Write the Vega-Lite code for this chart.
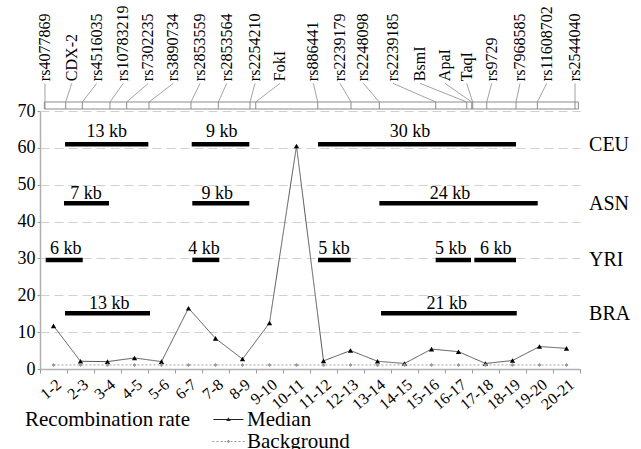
{
  "$schema": "https://vega.github.io/schema/vega-lite/v6.json",
  "autosize": {"type": "none"},
  "width": 540,
  "height": 258,
  "padding": {"top": 111, "left": 40, "right": 61, "bottom": 80},
  "config": {
    "view": {"stroke": null},
    "font": "Liberation Serif",
    "axisY": {
      "grid": true, "gridDash": [9, 5], "gridColor": "#d0d0d0", "gridWidth": 1,
      "domainColor": "#b0b0b0", "domainWidth": 1.5, "tickColor": "#999999", "tickSize": 3,
      "labelFont": "Liberation Serif", "labelFontSize": 18, "labelColor": "black", "labelPadding": 2,
      "labelOverlap": false
    }
  },
  "datasets": {
    "rates": [
      {"interval": "1-2", "series": "Median", "rate": 11.7},
      {"interval": "2-3", "series": "Median", "rate": 2.1},
      {"interval": "3-4", "series": "Median", "rate": 2.0},
      {"interval": "4-5", "series": "Median", "rate": 3.0},
      {"interval": "5-6", "series": "Median", "rate": 2.0},
      {"interval": "6-7", "series": "Median", "rate": 16.5},
      {"interval": "7-8", "series": "Median", "rate": 8.3},
      {"interval": "8-9", "series": "Median", "rate": 2.7},
      {"interval": "9-10", "series": "Median", "rate": 12.5},
      {"interval": "10-11", "series": "Median", "rate": 60.5},
      {"interval": "11-12", "series": "Median", "rate": 2.2},
      {"interval": "12-13", "series": "Median", "rate": 5.0},
      {"interval": "13-14", "series": "Median", "rate": 2.1},
      {"interval": "14-15", "series": "Median", "rate": 1.5},
      {"interval": "15-16", "series": "Median", "rate": 5.4},
      {"interval": "16-17", "series": "Median", "rate": 4.7},
      {"interval": "17-18", "series": "Median", "rate": 1.5},
      {"interval": "18-19", "series": "Median", "rate": 2.3},
      {"interval": "19-20", "series": "Median", "rate": 6.1},
      {"interval": "20-21", "series": "Median", "rate": 5.6},
      {"interval": "1-2", "series": "Background", "rate": 1.1},
      {"interval": "2-3", "series": "Background", "rate": 1.1},
      {"interval": "3-4", "series": "Background", "rate": 1.1},
      {"interval": "4-5", "series": "Background", "rate": 1.1},
      {"interval": "5-6", "series": "Background", "rate": 1.1},
      {"interval": "6-7", "series": "Background", "rate": 1.1},
      {"interval": "7-8", "series": "Background", "rate": 1.1},
      {"interval": "8-9", "series": "Background", "rate": 1.1},
      {"interval": "9-10", "series": "Background", "rate": 1.1},
      {"interval": "10-11", "series": "Background", "rate": 1.1},
      {"interval": "11-12", "series": "Background", "rate": 1.1},
      {"interval": "12-13", "series": "Background", "rate": 1.1},
      {"interval": "13-14", "series": "Background", "rate": 1.1},
      {"interval": "14-15", "series": "Background", "rate": 1.1},
      {"interval": "15-16", "series": "Background", "rate": 1.1},
      {"interval": "16-17", "series": "Background", "rate": 1.1},
      {"interval": "17-18", "series": "Background", "rate": 1.1},
      {"interval": "18-19", "series": "Background", "rate": 1.1},
      {"interval": "19-20", "series": "Background", "rate": 1.1},
      {"interval": "20-21", "series": "Background", "rate": 1.1}
    ],
    "snps": [
      {"name": "rs4077869", "mpos": 0.76, "lpos": 0.76},
      {"name": "CDX-2", "mpos": 3.92, "lpos": 4.84},
      {"name": "rs4516035", "mpos": 6.46, "lpos": 8.65},
      {"name": "rs10783219", "mpos": 10.68, "lpos": 12.71},
      {"name": "rs7302235", "mpos": 13.23, "lpos": 16.53},
      {"name": "rs3890734", "mpos": 16.63, "lpos": 20.34},
      {"name": "rs2853559", "mpos": 23.04, "lpos": 24.42},
      {"name": "rs2853564", "mpos": 27.21, "lpos": 28.49},
      {"name": "rs2254210", "mpos": 32.05, "lpos": 32.81},
      {"name": "FokI", "mpos": 32.92, "lpos": 36.62},
      {"name": "rs886441", "mpos": 42.38, "lpos": 41.71},
      {"name": "rs2239179", "mpos": 47.46, "lpos": 45.78},
      {"name": "rs2248098", "mpos": 51.78, "lpos": 49.34},
      {"name": "rs2239185", "mpos": 60.38, "lpos": 53.87},
      {"name": "BsmI", "mpos": 65.12, "lpos": 57.99},
      {"name": "ApaI", "mpos": 65.88, "lpos": 61.8},
      {"name": "TaqI", "mpos": 66.03, "lpos": 65.11},
      {"name": "rs9729", "mpos": 68.17, "lpos": 68.93},
      {"name": "rs7968585", "mpos": 72.64, "lpos": 73.25},
      {"name": "rs11608702", "mpos": 75.89, "lpos": 77.32},
      {"name": "rs2544040", "mpos": 81.64, "lpos": 81.64}
    ],
    "map": [{"start": 0.66, "end": 82.15}],
    "blocks": [
      {"pop": "CEU", "y": 61.0, "ly": 63.0, "start": 3.82, "end": 16.53, "label": "13 kb", "lx": 10.18},
      {"pop": "CEU", "y": 61.0, "ly": 63.0, "start": 23.15, "end": 31.94, "label": "9 kb", "lx": 27.73},
      {"pop": "CEU", "y": 61.0, "ly": 63.0, "start": 42.42, "end": 72.64, "label": "30 kb", "lx": 56.46},
      {"pop": "ASN", "y": 45.0, "ly": 46.2, "start": 3.66, "end": 10.53, "label": "7 kb", "lx": 7.02},
      {"pop": "ASN", "y": 45.0, "ly": 46.2, "start": 23.24, "end": 31.94, "label": "9 kb", "lx": 27.06},
      {"pop": "ASN", "y": 45.0, "ly": 46.2, "start": 51.78, "end": 75.95, "label": "24 kb", "lx": 62.57},
      {"pop": "YRI", "y": 29.6, "ly": 31.2, "start": 0.87, "end": 6.52, "label": "6 kb", "lx": 3.92},
      {"pop": "YRI", "y": 29.6, "ly": 31.2, "start": 23.24, "end": 27.36, "label": "4 kb", "lx": 25.03},
      {"pop": "YRI", "y": 29.6, "ly": 31.2, "start": 42.42, "end": 47.41, "label": "5 kb", "lx": 44.87},
      {"pop": "YRI", "y": 29.6, "ly": 31.2, "start": 60.38, "end": 65.77, "label": "5 kb", "lx": 62.67},
      {"pop": "YRI", "y": 29.6, "ly": 31.2, "start": 66.28, "end": 72.64, "label": "6 kb", "lx": 69.54},
      {"pop": "BRA", "y": 15.1, "ly": 16.2, "start": 3.82, "end": 16.79, "label": "13 kb", "lx": 10.58},
      {"pop": "BRA", "y": 15.1, "ly": 16.2, "start": 52.04, "end": 72.75, "label": "21 kb", "lx": 62.06}
    ],
    "pops": [
      {"pop": "CEU", "y": 60.8},
      {"pop": "ASN", "y": 44.8},
      {"pop": "YRI", "y": 29.6},
      {"pop": "BRA", "y": 14.8}
    ]
  },
  "layer": [
    {
      "data": {"name": "rates"},
      "layer": [
        {
          "mark": {"type": "line", "strokeWidth": 1},
          "encoding": {
            "x": {
              "field": "interval", "type": "ordinal", "sort": null,
              "scale": {"type": "band", "paddingInner": 0, "paddingOuter": 0},
              "axis": {
                "title": null, "labelAngle": -40, "labelAlign": "right", "labelBaseline": "top",
                "labelFont": "Liberation Serif", "labelFontSize": 16, "labelColor": "black",
                "tickBand": "extent", "tickSize": 4, "tickColor": "#999999",
                "domainColor": "#b0b0b0", "domainWidth": 1.5, "labelPadding": 3, "grid": false
              }
            },
            "y": {"field": "rate", "type": "quantitative", "title": null, "scale": {"domain": [0, 70], "nice": false}, "axis": {"title": null, "values": [0, 10, 20, 30, 40, 50, 60, 70]}},
            "stroke": {
              "field": "series", "type": "nominal",
              "scale": {"domain": ["Median", "Background"], "range": ["#555555", "#a0a0a0"]},
              "legend": {
                "title": "Recombination rate",
                "orient": "none", "legendX": -15, "legendY": 298,
                "direction": "vertical", "padding": 0,
                "titleOrient": "left", "titleAnchor": "start", "titleBaseline": "top",
                "titleFont": "Liberation Serif", "titleFontSize": 21, "titleFontWeight": "normal", "titleColor": "black",
                "titlePadding": 27, "titleLimit": 300,
                "labelFont": "Liberation Serif", "labelFontSize": 21, "labelColor": "black",
                "labelOffset": 8, "symbolSize": 441, "rowPadding": 0, "symbolStrokeWidth": 0,
                "symbolOpacity": 1
              }
            },
            "strokeDash": {
              "field": "series", "type": "nominal",
              "scale": {"domain": ["Median", "Background"], "range": [[1, 0], [2, 2]]},
              "legend": null
            }
          }
        },
        {
          "transform": [{"filter": "datum.series === 'Median'"}],
          "mark": {"type": "point", "filled": true, "opacity": 1, "shape": "triangle-up", "size": 28, "color": "black"},
          "encoding": {
            "x": {"field": "interval", "type": "ordinal", "sort": null},
            "y": {"field": "rate", "type": "quantitative", "title": null, "axis": {"title": null, "values": [0, 10, 20, 30, 40, 50, 60, 70]}}
          }
        },
        {
          "transform": [{"filter": "datum.series === 'Background'"}],
          "mark": {"type": "point", "filled": true, "opacity": 1, "shape": "diamond", "size": 16, "color": "#999999"},
          "encoding": {
            "x": {"field": "interval", "type": "ordinal", "sort": null},
            "y": {"field": "rate", "type": "quantitative", "title": null, "axis": {"title": null, "values": [0, 10, 20, 30, 40, 50, 60, 70]}}
          }
        },
        {
          "mark": {"type": "point", "filled": true, "opacity": 0, "size": 441},
          "encoding": {
            "x": {"field": "interval", "type": "ordinal", "sort": null},
            "y": {"field": "rate", "type": "quantitative", "title": null, "axis": {"title": null, "values": [0, 10, 20, 30, 40, 50, 60, 70]}},
            "shape": {
              "field": "series", "type": "nominal",
              "scale": {"domain": ["Median", "Background"], "range": [
                "M-1.43,-0.05L1.43,-0.05L1.43,0.05L-1.43,0.05Z M-0.22,0.14L0,-0.22L0.22,0.14Z",
                "M-1.55,-0.05h0.2v0.1h-0.2Z M-1.15,-0.05h0.2v0.1h-0.2Z M-0.75,-0.05h0.2v0.1h-0.2Z M-0.38,-0.05h0.16v0.1h-0.16Z M0.22,-0.05h0.16v0.1h-0.16Z M0.55,-0.05h0.2v0.1h-0.2Z M0.95,-0.05h0.2v0.1h-0.2Z M1.35,-0.05h0.2v0.1h-0.2Z M-0.17,0L0,-0.17L0.17,0L0,0.17Z"
              ]},
              "legend": null
            },
            "fill": {
              "field": "series", "type": "nominal",
              "scale": {"domain": ["Median", "Background"], "range": ["#222222", "#999999"]},
              "legend": null
            }
          }
        }
      ]
    },
    {
      "layer": [
        {
          "data": {"name": "map"},
          "mark": {"type": "rect", "fillOpacity": 0, "stroke": "#8c8c8c", "strokeWidth": 1},
          "encoding": {
            "x": {"field": "start", "type": "quantitative", "scale": {"domain": [0, 82.4], "nice": false, "zero": false}, "axis": null},
            "x2": {"field": "end"},
            "y": {"datum": 70.54, "type": "quantitative", "axis": {"title": null, "values": [0, 10, 20, 30, 40, 50, 60, 70]}},
            "y2": {"datum": 72.44}
          }
        },
        {
          "data": {"name": "snps"},
          "mark": {"type": "rule", "stroke": "#8c8c8c", "strokeWidth": 1},
          "encoding": {
            "x": {"field": "mpos", "type": "quantitative", "axis": null},
            "y": {"datum": 70.54, "type": "quantitative", "axis": {"title": null, "values": [0, 10, 20, 30, 40, 50, 60, 70]}},
            "y2": {"datum": 72.44}
          }
        },
        {
          "data": {"name": "snps"},
          "mark": {"type": "rule", "stroke": "#8c8c8c", "strokeWidth": 0.8},
          "encoding": {
            "x": {"field": "lpos", "type": "quantitative", "axis": null},
            "x2": {"field": "mpos"},
            "y": {"datum": 77.5, "type": "quantitative", "axis": {"title": null, "values": [0, 10, 20, 30, 40, 50, 60, 70]}},
            "y2": {"datum": 72.44}
          }
        },
        {
          "data": {"name": "snps"},
          "mark": {"type": "text", "angle": 270, "align": "left", "baseline": "middle", "font": "Liberation Serif", "fontSize": 16, "color": "black"},
          "encoding": {
            "x": {"field": "lpos", "type": "quantitative", "axis": null},
            "y": {"datum": 78.1, "type": "quantitative", "axis": {"title": null, "values": [0, 10, 20, 30, 40, 50, 60, 70]}},
            "text": {"field": "name"}
          }
        },
        {
          "data": {"name": "blocks"},
          "mark": {"type": "rule", "stroke": "black", "strokeWidth": 4.5, "strokeCap": "butt"},
          "encoding": {
            "x": {"field": "start", "type": "quantitative", "axis": null},
            "x2": {"field": "end"},
            "y": {"field": "y", "type": "quantitative", "axis": {"title": null, "values": [0, 10, 20, 30, 40, 50, 60, 70]}}
          }
        },
        {
          "data": {"name": "blocks"},
          "mark": {"type": "text", "align": "center", "baseline": "alphabetic", "font": "Liberation Serif", "fontSize": 18, "color": "black"},
          "encoding": {
            "x": {"field": "lx", "type": "quantitative", "axis": null},
            "y": {"field": "ly", "type": "quantitative", "axis": {"title": null, "values": [0, 10, 20, 30, 40, 50, 60, 70]}},
            "text": {"field": "label"}
          }
        },
        {
          "data": {"name": "pops"},
          "mark": {"type": "text", "align": "left", "baseline": "middle", "font": "Liberation Serif", "fontSize": 20, "color": "black"},
          "encoding": {
            "x": {"datum": 83.78, "type": "quantitative", "axis": null},
            "y": {"field": "y", "type": "quantitative", "axis": {"title": null, "values": [0, 10, 20, 30, 40, 50, 60, 70]}},
            "text": {"field": "pop"}
          }
        }
      ]
    }
  ],
  "resolve": {"scale": {"x": "independent"}, "axis": {"x": "independent"}}
}
